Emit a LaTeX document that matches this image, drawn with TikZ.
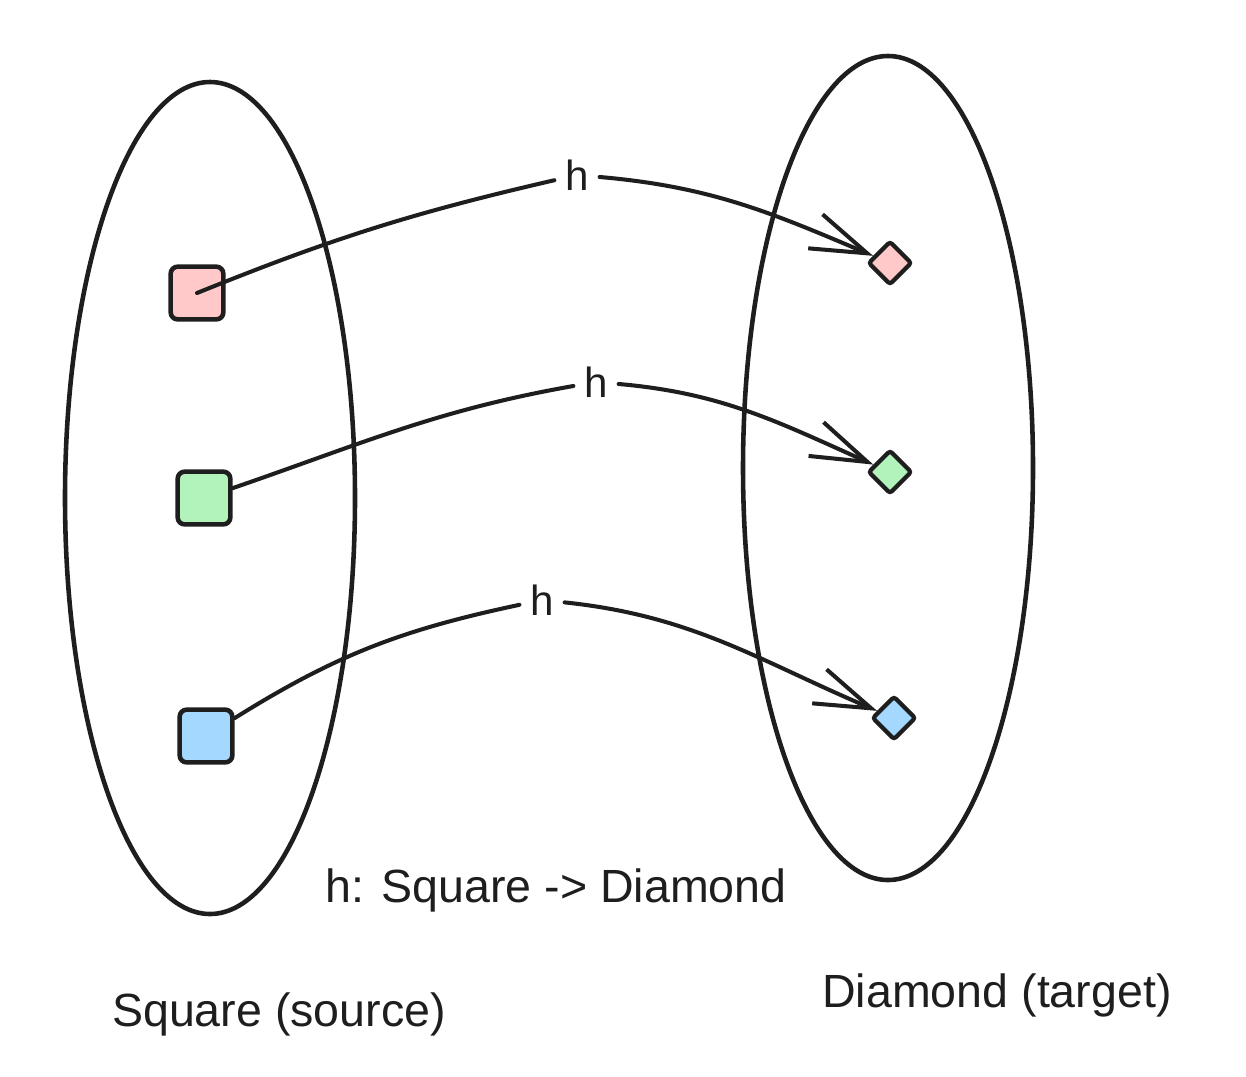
\documentclass[tikz,border=0pt]{standalone}
\usepackage{fontspec}
\setmainfont{Liberation Sans}
\usetikzlibrary{shapes.geometric,arrows.meta}
\definecolor{ink}{HTML}{1E1E1E}
\definecolor{sqpink}{HTML}{FFC9C9}
\definecolor{sqgreen}{HTML}{B2F2BB}
\definecolor{sqblue}{HTML}{A5D8FF}

\begin{document}
\begin{tikzpicture}[x=0.02cm, y=0.02cm,
		setline/.style={draw=ink, line width=2.6pt},
		sqbox/.style={draw=ink, line width=2.6pt, rounded corners=4pt, minimum size=30pt, inner sep=0pt},
		dmbox/.style={draw=ink, line width=2.4pt, shape=diamond, rounded corners=1.5pt, minimum size=25pt, inner sep=0pt},
		maparrow/.style={draw=ink, line width=2.3pt, line cap=round, -{Straight Barb[length=32pt, width=21pt, line width=2.3pt]}},
		hlabel/.style={font=\fontsize{24}{28}\selectfont, text=ink, inner sep=6pt},
		caption/.style={font=\fontsize{26.5}{30}\selectfont, text=ink}]
	% Fix the page size
	\useasboundingbox (0,0) rectangle (1246,-1076);
	
	% The two sets
	\draw[setline] (210,-498) ellipse [x radius=145, y radius=416];
	\draw[setline] (888,-468) ellipse [x radius=145, y radius=412];
	
	% Elements of the source set
	\node[sqbox, fill=sqpink] (sq1) at (197,-293) {};
	\node[sqbox, fill=sqgreen] (sq2) at (204,-498) {};
	\node[sqbox, fill=sqblue] (sq3) at (206,-736) {};
	
	% Elements of the target set
	\node[dmbox, fill=sqpink] (dm1) at (890,-263) {};
	\node[dmbox, fill=sqgreen] (dm2) at (890,-472) {};
	\node[dmbox, fill=sqblue] (dm3) at (894,-718) {};
	
	% Labels on the arrows
	\node[hlabel] (h1) at (577,-175) {h};
	\node[hlabel] (h2) at (596,-382) {h};
	\node[hlabel] (h3) at (542,-600) {h};
	
	% The map h
	\draw[maparrow] (sq1.center) to[out=22, in=193] (h1) to[out=-5, in=157] (dm1);
	\draw[maparrow] (sq2) to[out=19, in=190] (h2) to[out=-5, in=156] (dm2);
	\draw[maparrow] (sq3) to[out=32, in=192] (h3) to[out=-6, in=157] (dm3);
	
	% Captions
	\node[caption] (maptext) at (556,-890) {h: Square -> Diamond};
	\node[caption] (srctext) at (279,-1014) {Square (source)};
	\node[caption] (tgttext) at (997,-995) {Diamond (target)};
\end{tikzpicture}
\end{document}
